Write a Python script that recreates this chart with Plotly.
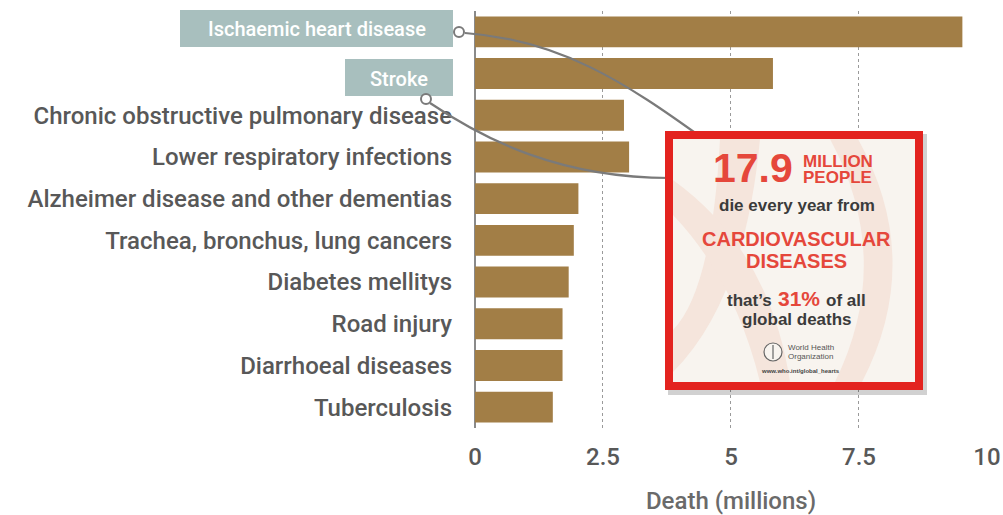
import plotly.graph_objects as go

# ---------------- data ----------------
causes = [
    "Ischaemic heart disease",
    "Stroke",
    "Chronic obstructive pulmonary disease",
    "Lower respiratory infections",
    "Alzheimer disease and other dementias",
    "Trachea, bronchus, lung cancers",
    "Diabetes mellitys",
    "Road injury",
    "Diarrhoeal diseases",
    "Tuberculosis",
]
deaths = [9.52, 5.82, 2.91, 3.01, 2.02, 1.93, 1.83, 1.71, 1.71, 1.52]
highlighted = ["Ischaemic heart disease", "Stroke"]
x_ticks = [0, 2.5, 5, 7.5, 10]
x_tick_labels = ["0", "2.5", "5", "7.5", "10"]
x_title = "Death (millions)"

# ---------------- layout geometry (page pixels) ----------------
PAGE_W, PAGE_H = 1003, 515
OFF = 8  # page body margin (top/left)
W, H = PAGE_W - OFF, PAGE_H - OFF
L, R, T, B = 475, 987, 11, 428
PW, PH = R - L, B - T


def px(X):
    return (X - L) / PW


def py(Y):
    return (B - Y) / PH


def path(cmds):
    out = []
    for c in cmds:
        if c[0] == "Z":
            out.append("Z")
            continue
        letter = c[0]
        pts = c[1:]
        coords = []
        for i in range(0, len(pts), 2):
            coords.append(f"{px(pts[i]):.5f},{py(pts[i+1]):.5f}")
        out.append(letter + " " + " ".join(coords))
    return " ".join(out)


FONT = "Roboto"
LABEL_COLOR = "#585858"
BAR_COLOR = "#a27e46"
BOX_COLOR = "#a8bfbe"

fig = go.Figure()
fig.add_trace(go.Bar(
    y=causes, x=deaths, orientation="h",
    marker=dict(color=BAR_COLOR, line=dict(width=0)),
    hoverinfo="x+y",
))

ticktext = ["" if c in highlighted else c for c in causes]

shapes = []
annotations = []

# highlighted label boxes
for name, (x0, x1, y0, y1) in zip(highlighted, [(180, 453, 10, 47), (345, 453, 59, 96)]):
    shapes.append(dict(type="rect", xref="paper", yref="paper",
                       x0=px(x0), x1=px(x1), y0=py(y1), y1=py(y0),
                       fillcolor=BOX_COLOR, line=dict(width=0), layer="above"))
    annotations.append(dict(xref="paper", yref="paper", x=px((x0 + x1) / 2), y=py((y0 + y1) / 2 + 1),
                            text=name, showarrow=False, xanchor="center", yanchor="middle",
                            font=dict(family=FONT, size=20, weight=500, color="white")))

# connector curves
line_style = dict(color="#7a7a7a", width=2.2)
shapes.append(dict(type="path", xref="paper", yref="paper",
                   path=path([("M", 465, 33), ("C", 560, 40, 625, 82, 705, 140)]),
                   line=line_style))
shapes.append(dict(type="path", xref="paper", yref="paper",
                   path=path([("M", 430, 103), ("C", 485, 140, 560, 178, 670, 178)]),
                   line=line_style))
for cx, cy in [(459, 32), (426, 99)]:
    r = 5
    shapes.append(dict(type="circle", xref="paper", yref="paper",
                       x0=px(cx - r), x1=px(cx + r), y0=py(cy + r), y1=py(cy - r),
                       fillcolor="white", line=dict(color="#7a7a7a", width=2)))

# ---------------- infographic box ----------------
bx0, bx1, by0, by1 = 665, 923, 131, 390
shapes.append(dict(type="rect", xref="paper", yref="paper",
                   x0=px(bx0 + 3), x1=px(bx1 + 4), y0=py(by1 + 5), y1=py(by0 + 3),
                   fillcolor="rgba(0,0,0,0.18)", line=dict(width=0)))
shapes.append(dict(type="rect", xref="paper", yref="paper",
                   x0=px(bx0), x1=px(bx1), y0=py(by1), y1=py(by0),
                   fillcolor="#e3231f", line=dict(width=0)))
ix0, ix1, iy0, iy1 = bx0 + 8, bx1 - 8, by0 + 8, by1 - 8
shapes.append(dict(type="rect", xref="paper", yref="paper",
                   x0=px(ix0), x1=px(ix1), y0=py(iy1), y1=py(iy0),
                   fillcolor="#f8f4ef", line=dict(width=0)))
band = "#f5e5dc"
shapes.append(dict(type="path", xref="paper", yref="paper",
                   path=path([("M", 858, iy0), ("Q", 925, 260, 862, iy1), ("L", 835, iy1),
                              ("Q", 895, 260, 830, iy0), ("Z",)]),
                   fillcolor=band, line=dict(width=0)))
shapes.append(dict(type="path", xref="paper", yref="paper",
                   path=path([("M", 720, iy0), ("Q", 712, 290, ix0, 330), ("L", ix0, 372),
                              ("Q", 745, 300, 760, iy0), ("Z",)]),
                   fillcolor=band, line=dict(width=0)))
shapes.append(dict(type="path", xref="paper", yref="paper",
                   path=path([("M", ix0, 180), ("Q", 770, 250, 790, iy1), ("L", 760, iy1),
                              ("Q", 735, 280, ix0, 215), ("Z",)]),
                   fillcolor=band, line=dict(width=0)))
# WHO emblem
shapes.append(dict(type="circle", xref="paper", yref="paper",
                   x0=px(764), x1=px(782), y0=py(361), y1=py(343),
                   fillcolor="#f8f4ef", line=dict(color="#666666", width=1.2)))
shapes.append(dict(type="path", xref="paper", yref="paper",
                   path=path([("M", 773, 345), ("L", 773, 359)]),
                   line=dict(color="#666666", width=1.2)))

RED = "#e5473b"
DARK = "#3b3b3b"
INFO_FONT = "Liberation Sans"


def ann(x, y, text, size, color, xanchor="center", bold=True):
    annotations.append(dict(xref="paper", yref="paper", x=px(x), y=py(y),
                            text=("<b>" + text + "</b>") if bold else text,
                            showarrow=False, xanchor=xanchor, yanchor="middle",
                            font=dict(family=INFO_FONT, size=size, color=color)))


ann(753, 168, "17.9", 41, RED)
ann(801, 161, "MILLION", 17, RED, xanchor="left")
ann(801, 177, "PEOPLE", 17, RED, xanchor="left")
ann(797, 205, "die every year from", 17, DARK)
ann(796, 239, "CARDIOVASCULAR", 20, RED)
ann(796, 261, "DISEASES", 20, RED)
ann(774, 300, "that’s", 17, DARK, xanchor="right")
ann(799, 298, "31%", 21, RED)
ann(824, 300, "of all", 17, DARK, xanchor="left")
ann(797, 319, "global deaths", 17, DARK)
ann(786, 347, "World Health", 8, "#555555", xanchor="left", bold=False)
ann(786, 356, "Organization", 8, "#555555", xanchor="left", bold=False)
ann(800, 371, "www.who.int/global_hearts", 6, "#444444")

fig.update_layout(
    width=W, height=H, autosize=False,
    margin=dict(l=L - OFF, r=PAGE_W - R, t=T - OFF, b=PAGE_H - B),
    paper_bgcolor="white", plot_bgcolor="white",
    showlegend=False,
    bargap=0.26,
    font=dict(family=FONT, color=LABEL_COLOR),
    shapes=shapes,
    annotations=annotations,
    xaxis=dict(
        range=[0, 10.001],
        tickvals=x_ticks, ticktext=x_tick_labels,
        tickfont=dict(family=FONT, size=24, weight=500, color=LABEL_COLOR),
        showgrid=True, gridcolor="#9a9a9a", gridwidth=1, griddash="dot",
        zeroline=True, zerolinecolor="#8a8a8a", zerolinewidth=1.5,
        showline=False, ticks="", ticklabelstandoff=12,
        title=dict(text=x_title, font=dict(family=FONT, size=24, weight=500, color="#6a6a6a"), standoff=24),
        fixedrange=True,
    ),
    yaxis=dict(
        type="category",
        categoryorder="array", categoryarray=causes,
        range=[9.5, -0.5],
        tickvals=causes, ticktext=ticktext,
        tickfont=dict(family=FONT, size=24, weight=500, color=LABEL_COLOR),
        showgrid=False, zeroline=False, showline=False, ticks="",
        ticklabelstandoff=22,
        fixedrange=True,
    ),
)

fig.write_html(
    "out.html",
    config={"displayModeBar": False},
    post_script="document.body.style.margin='8px 0 0 8px';document.documentElement.style.overflow='hidden';",
)
